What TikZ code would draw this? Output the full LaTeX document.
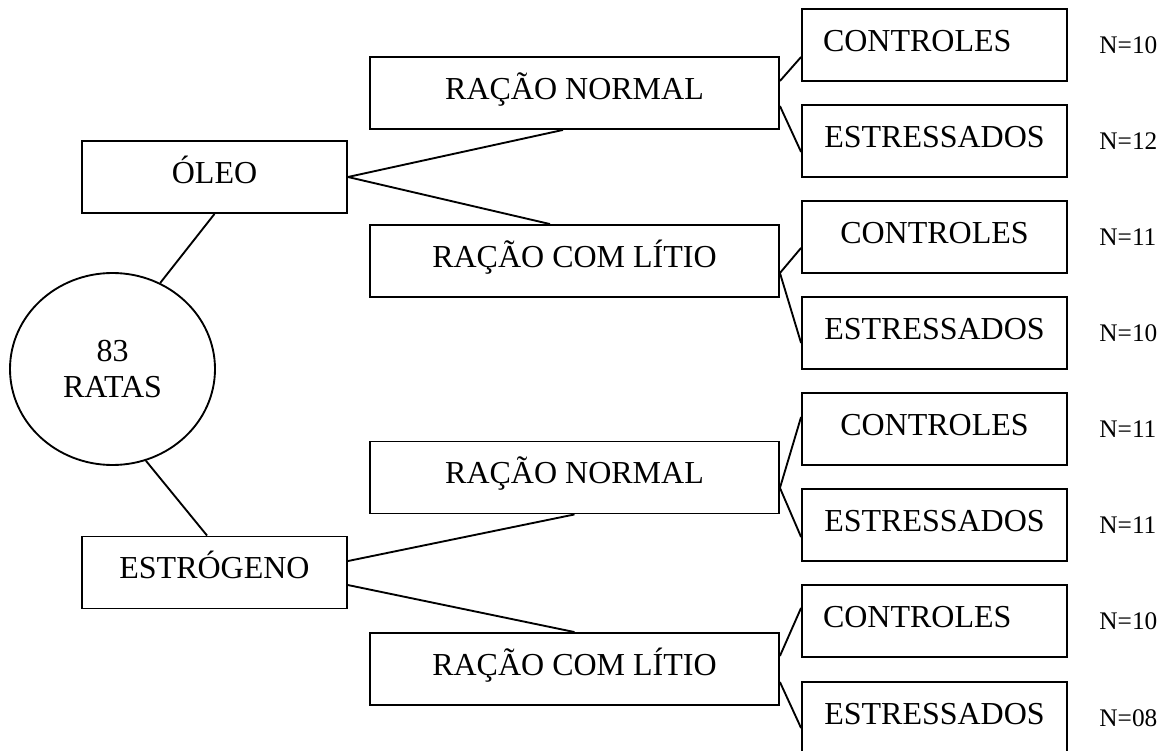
\documentclass[tikz,border=0pt]{standalone}
\usepackage{fontspec}
\setmainfont{Liberation Serif}
\usetikzlibrary{positioning,shapes.geometric}

\begin{document}
\begin{tikzpicture}[
  x=0.375pt,y=-0.375pt,
  every node/.style={font=\fontsize{12}{13.5}\selectfont},
  link/.style={line width=0.7pt,black},
  grpbox/.style={draw,line width=0.7pt,rectangle,minimum width=99.375pt,minimum height=27pt,
                 inner sep=0pt,text height=10.5pt,text depth=5.8pt},
  dietbox/.style={grpbox,minimum width=153.375pt},
  leafbox/.style={grpbox},
  leafleft/.style={grpbox,text width=83.625pt,inner xsep=7.875pt,align=left},
  nlab/.style={font=\fontsize{9.5}{11}\selectfont,inner sep=0pt}
]
\useasboundingbox (0,0) rectangle (1165,751);

% Root: the animals
\node[ellipse,draw,line width=0.7pt,minimum width=76.875pt,minimum height=72pt,inner sep=0pt,align=center]
  (rats) at (112.5,369) {83\\RATAS};

% Treatments
\node[grpbox] (oleo) at (214.5,177) {ÓLEO};
\node[grpbox] (estro) at (214.5,572.5) {ESTRÓGENO};

% Diets
\node[dietbox] (rn1) at (574.5,93) {RAÇÃO NORMAL};
\node[dietbox] (rl1) at (574.5,261) {RAÇÃO COM LÍTIO};
\node[dietbox] (rn2) at (574.5,477.5) {RAÇÃO NORMAL};
\node[dietbox] (rl2) at (574.5,669) {RAÇÃO COM LÍTIO};

% Groups
\node[leafleft] (c1) at (934.5,45) {CONTROLES};
\node[leafbox] (e1) at (934.5,141) {ESTRESSADOS};
\node[leafbox] (c2) at (934.5,237) {CONTROLES};
\node[leafbox] (e2) at (934.5,333) {ESTRESSADOS};
\node[leafbox] (c3) at (934.5,429) {CONTROLES};
\node[leafbox] (e3) at (934.5,525) {ESTRESSADOS};
\node[leafleft] (c4) at (934.5,621) {CONTROLES};
\node[leafbox] (e4) at (934.5,718) {ESTRESSADOS};

% Group sizes
\node[nlab,right=11.6pt of c1] (n1) {N=10};
\node[nlab,right=11.6pt of e1] (n2) {N=12};
\node[nlab,right=11.6pt of c2] (n3) {N=11};
\node[nlab,right=11.6pt of e2] (n4) {N=10};
\node[nlab,right=11.6pt of c3] (n5) {N=11};
\node[nlab,right=11.6pt of e3] (n6) {N=11};
\node[nlab,right=11.6pt of c4] (n7) {N=10};
\node[nlab,right=11.6pt of e4] (n8) {N=08};

% Root to treatments
\draw[link] (rats.61) -- (oleo.south);
\draw[link] (rats.-70) -- ([xshift=-2.8pt]estro.north);

% Treatments to diets
\draw[link] (oleo.east) -- ([xshift=-4.3pt]rn1.south);
\draw[link] (oleo.east) -- ([xshift=-9.2pt]rl1.north);
\draw[link] ([yshift=4.3pt]estro.east) -- (rn2.south);
\draw[link] ([yshift=-4.7pt]estro.east) -- (rl2.north);

% Diets to groups
\draw[link] ([yshift=4.5pt]rn1.east) -- ([yshift=-4.5pt]c1.west);
\draw[link] ([yshift=-4.9pt]rn1.east) -- ([yshift=-4.1pt]e1.west);
\draw[link] ([yshift=-4.5pt]rl1.east) -- ([yshift=-4.1pt]c2.west);
\draw[link] ([yshift=-4.5pt]rl1.east) -- ([yshift=-3.75pt]e2.west);
\draw[link] ([yshift=-3.9pt]rn2.east) -- ([yshift=4.5pt]c3.west);
\draw[link] ([yshift=-3.9pt]rn2.east) -- ([yshift=-4.5pt]e3.west);
\draw[link] ([yshift=4.9pt]rl2.east) -- ([yshift=4.9pt]c4.west);
\draw[link] ([yshift=-4.9pt]rl2.east) -- ([yshift=-3.75pt]e4.west);

\end{tikzpicture}
\end{document}
